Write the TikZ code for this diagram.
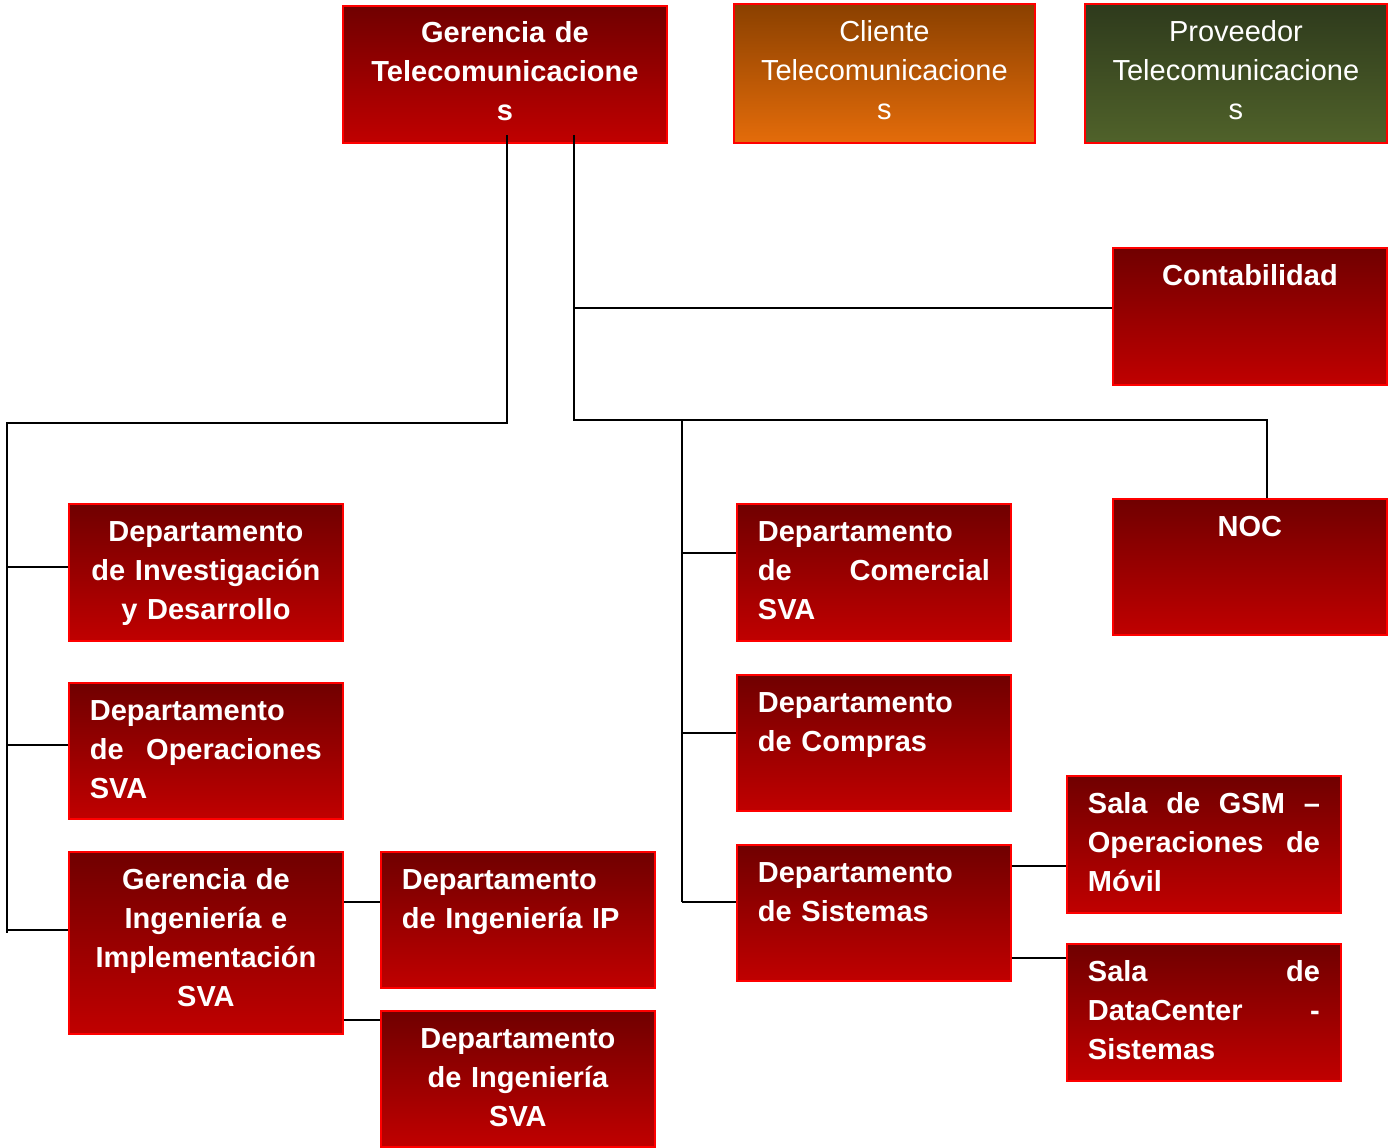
\documentclass[tikz,border=0pt]{standalone}
\usepackage{fontspec}
\setmainfont{Liberation Sans}
\definecolor{rtop}{RGB}{112,0,0}
\definecolor{rbot}{RGB}{192,0,0}
\definecolor{otop}{RGB}{138,64,0}
\definecolor{obot}{RGB}{228,108,10}
\definecolor{gtop}{RGB}{46,58,28}
\definecolor{gbot}{RGB}{80,98,42}
\definecolor{bord}{RGB}{255,0,0}
\tikzset{
 orgbase/.style={draw=bord, line width=1.8pt, inner sep=0pt, anchor=north west},
 redbox/.style={orgbase, top color=rtop, bottom color=rbot},
 orangebox/.style={orgbase, top color=otop, bottom color=obot},
 greenbox/.style={orgbase, top color=gtop, bottom color=gbot},
 txt/.style={text=white, inner sep=0pt, anchor=north, font=\fontsize{29}{39}\selectfont\bfseries},
 txtr/.style={text=white, inner sep=0pt, anchor=north, font=\fontsize{29}{39}\selectfont},
 conn/.style={draw=black, line width=1.5pt},
}
\newcommand\orgbox[6]{%
 \pgfmathsetmacro\bw{#5-#3}\pgfmathsetmacro\bh{#6-#4}%
 \node[#1, minimum width=\bw pt, minimum height=\bh pt] (#2) at (#3,#4) {};}
\newcommand\jline[1]{\leavevmode\hbox to 232pt{#1}}
\begin{document}
\begin{tikzpicture}[x=1pt,y=-1pt]
\useasboundingbox (0,0) rectangle (1389,1148);
% boxes
\orgbox{redbox}{gt}{342}{5}{666}{142}
\orgbox{orangebox}{cli}{733}{3}{1034}{142}
\orgbox{greenbox}{prov}{1084}{3}{1386}{142}
\orgbox{redbox}{cont}{1112}{247}{1386}{384}
\orgbox{redbox}{noc}{1112}{498}{1386}{634}
\orgbox{redbox}{inv}{68}{503}{342}{640}
\orgbox{redbox}{ops}{68}{682}{342}{818}
\orgbox{redbox}{gi}{68}{851}{342}{1033}
\orgbox{redbox}{ip}{380}{851}{654}{987}
\orgbox{redbox}{isva}{380}{1010}{654}{1146}
\orgbox{redbox}{com}{736}{503}{1010}{640}
\orgbox{redbox}{comp}{736}{674}{1010}{810}
\orgbox{redbox}{sis}{736}{844}{1010}{980}
\orgbox{redbox}{gsm}{1066}{775}{1340}{912}
\orgbox{redbox}{dc}{1066}{943}{1340}{1080}
% texts
\node[txt, text width=290pt, align=center] (gt-t) at ([yshift=-10.2pt]gt.north) {\strut Gerencia de\\Telecomunicacione\\s};
\node[txtr, text width=280pt, align=center] (cli-t) at ([yshift=-11.5pt]cli.north) {\strut Cliente\\Telecomunicacione\\s};
\node[txtr, text width=280pt, align=center] (prov-t) at ([yshift=-11.5pt]prov.north) {\strut Proveedor\\Telecomunicacione\\s};
\node[txt, text width=250pt, align=center] (cont-t) at ([yshift=-11.2pt]cont.north) {\strut Contabilidad};
\node[txt, text width=250pt, align=center] (noc-t) at ([yshift=-11.2pt]noc.north) {\strut NOC};
\node[txt, text width=240pt, align=center] (inv-t) at ([yshift=-11.2pt]inv.north) {\strut Departamento\\de Investigación\\y Desarrollo};
\node[txt, text width=232pt, align=left] (ops-t) at ([yshift=-11.2pt]ops.north) {\strut Departamento\\\jline{de\hfill Operaciones}\\SVA};
\node[txt, text width=240pt, align=center] (gi-t) at ([yshift=-11.2pt]gi.north) {\strut Gerencia de\\Ingeniería e\\Implementación\\SVA};
\node[txt, text width=232pt, align=left] (ip-t) at ([yshift=-11.2pt]ip.north) {\strut Departamento\\de Ingeniería IP};
\node[txt, text width=240pt, align=center] (isva-t) at ([yshift=-11.2pt]isva.north) {\strut Departamento\\de Ingeniería\\SVA};
\node[txt, text width=232pt, align=left] (com-t) at ([yshift=-11.2pt]com.north) {\strut Departamento\\\jline{de\hfill Comercial}\\SVA};
\node[txt, text width=232pt, align=left] (comp-t) at ([yshift=-11.2pt]comp.north) {\strut Departamento\\de Compras};
\node[txt, text width=232pt, align=left] (sis-t) at ([yshift=-11.2pt]sis.north) {\strut Departamento\\de Sistemas};
\node[txt, text width=232pt, align=left] (gsm-t) at ([yshift=-11.2pt]gsm.north) {\strut\jline{Sala\hfill de\hfill GSM\hfill –}\\\jline{Operaciones\hfill de}\\Móvil};
\node[txt, text width=232pt, align=left] (dc-t) at ([yshift=-11.2pt]dc.north) {\strut\jline{Sala\hfill de}\\\jline{DataCenter\hfill -}\\Sistemas};
% connectors
\coordinate (s1) at (507,135);
\coordinate (s2) at (574,135);
\coordinate (l0) at (7,423);
\coordinate (l1) at (7,933);
\draw[conn] (s1) |- (l0) -- (l1);
\coordinate (b1) at (7,567);
\coordinate (b2) at (7,745);
\coordinate (b3) at (7,930);
\draw[conn] (b1) -- (b1 -| inv.west);
\draw[conn] (b2) -- (b2 -| ops.west);
\draw[conn] (b3) -- (b3 -| gi.west);
\coordinate (r0) at (574,421);
\draw[conn] (s2) -- (r0);
\coordinate (c1) at (574,308);
\draw[conn] (c1) -- (c1 -| cont.west);
\coordinate (h0) at (574,420);
\coordinate (h1) at (1267,420);
\draw[conn] (h0) -- (h1) -- (h1 |- noc.north);
\coordinate (v0) at (682,420);
\coordinate (v1) at (682,902);
\draw[conn] (v0) -- (v1);
\coordinate (m1) at (682,553);
\coordinate (m2) at (682,733);
\draw[conn] (m1) -- (m1 -| com.west);
\draw[conn] (m2) -- (m2 -| comp.west);
\draw[conn] (v1) -- (v1 -| sis.west);
\coordinate (k1) at (360,902);
\coordinate (k2) at (360,1020);
\draw[conn] (k1 -| gi.east) -- (k1 -| ip.west);
\draw[conn] (k2 -| gi.east) -- (k2 -| isva.west);
\coordinate (q1) at (1030,866);
\coordinate (q2) at (1030,958);
\draw[conn] (q1 -| sis.east) -- (q1 -| gsm.west);
\draw[conn] (q2 -| sis.east) -- (q2 -| dc.west);
\end{tikzpicture}
\end{document}
